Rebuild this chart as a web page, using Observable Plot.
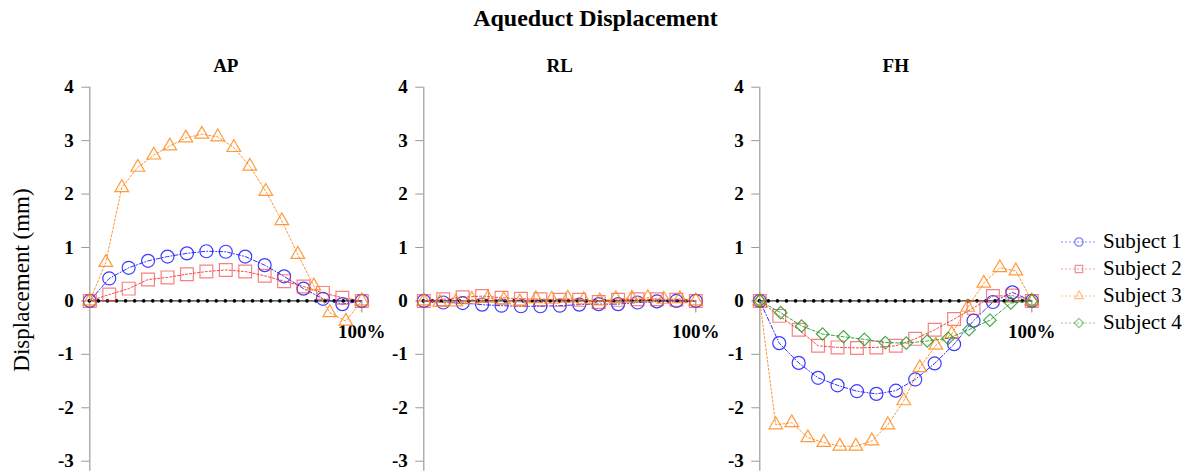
<!DOCTYPE html>
<html>
<head>
<meta charset="utf-8">
<script src="https://cdn.jsdelivr.net/npm/d3@7"></script>
<script src="https://cdn.jsdelivr.net/npm/@observablehq/plot@0.6"></script>
<style>
  html, body { margin: 0; padding: 0; background: #fff; }
  #root { position: relative; width: 1191px; height: 473px; font-family: "Liberation Serif", "Times New Roman", serif; overflow: hidden; }
  .panel { position: absolute; top: 0; }
  #title { position: absolute; left: 0; width: 1191px; top: 4px; text-align: center; font-weight: bold; font-size: 24px; line-height: 28px; }
  #ylabel { position: absolute; left: 22px; top: 280px; transform: translate(-50%, -50%) rotate(-90deg); font-size: 23px; white-space: nowrap; }
  #legend { position: absolute; left: 1060px; top: 228px; }
  .lrow { display: flex; align-items: center; height: 27px; font-size: 21px; }
  .lrow svg { margin-right: 5px; }
</style>
</head>
<body>
<div id="root">
  <div id="title">Aqueduct Displacement</div>
  <div id="ylabel">Displacement (mm)</div>
  <div id="legend"></div>
</div>
<script>
// ---- data ----
const subjects = ["Subject 1", "Subject 2", "Subject 3", "Subject 4"];
const panelNames = ["AP", "RL", "FH"];
const yTicks = [-3, -2, -1, 0, 1, 2, 3, 4];
const xTickValues = [100];
const xTickLabels = ["100%"];

// x positions (% of cycle) for series sampled at 15, 18 and 14 points
const x15 = [0, 7.14, 14.29, 21.43, 28.57, 35.71, 42.86, 50, 57.14, 64.29, 71.43, 78.57, 85.71, 92.86, 100];
const x18 = [0, 5.88, 11.76, 17.65, 23.53, 29.41, 35.29, 41.18, 47.06, 52.94, 58.82, 64.71, 70.59, 76.47, 82.35, 88.24, 94.12, 100];
const x14 = [0, 7.69, 15.38, 23.08, 30.77, 38.46, 46.15, 53.85, 61.54, 69.23, 76.92, 84.62, 92.31, 100];

// AP
const apS1 = [0, 0.42, 0.62, 0.75, 0.83, 0.89, 0.93, 0.92, 0.83, 0.67, 0.46, 0.23, 0.04, -0.06, 0];
const apS2 = [0, 0.12, 0.23, 0.4, 0.44, 0.5, 0.55, 0.58, 0.55, 0.47, 0.37, 0.27, 0.15, 0.06, 0];
const apS3 = [0, 0.72, 2.12, 2.5, 2.73, 2.9, 3.05, 3.12, 3.07, 2.87, 2.52, 2.05, 1.5, 0.87, 0.28, -0.22, -0.38, 0];
// RL
const rlS1 = [0, -0.03, -0.04, -0.07, -0.09, -0.1, -0.1, -0.09, -0.07, -0.06, -0.06, -0.03, -0.01, 0, 0];
const rlS2 = [0, 0.03, 0.07, 0.09, 0.06, 0.04, 0.03, 0.02, 0.02, -0.02, 0.02, 0.03, 0.03, 0.02, 0];
const rlS3 = [0, -0.03, -0.02, 0.03, 0.05, 0.02, -0.02, 0.04, 0.03, 0.05, 0.02, 0, 0.04, 0.05, 0.06, 0.03, 0.04, 0];
// FH
const fhS1 = [0, -0.79, -1.16, -1.44, -1.58, -1.69, -1.74, -1.68, -1.47, -1.17, -0.81, -0.37, -0.02, 0.16, 0];
const fhS2 = [0, -0.28, -0.54, -0.84, -0.87, -0.88, -0.87, -0.84, -0.71, -0.54, -0.34, -0.13, 0.09, 0.1, 0];
const fhS3 = [0, -2.32, -2.28, -2.56, -2.65, -2.72, -2.72, -2.62, -2.32, -1.87, -1.25, -0.83, -0.62, -0.12, 0.33, 0.62, 0.56, 0];
const fhS4 = [0, -0.22, -0.47, -0.62, -0.67, -0.72, -0.78, -0.79, -0.75, -0.7, -0.54, -0.36, -0.04, 0];

// ---- styles ----
const colors = ["#1a1aff", "#f03434", "#ff8a1c", "#2a9a2a"];
const symbols = ["circle", "square", "triangle2", "diamond2"];
const radii = [6.5, 7.2, 6.5, 5.6];
const dashes = ["4 2 1 2", "2 2", "2 2", "3 2"];
const markerOpacity = [0.85, 0.62, 0.85, 0.85];

function series(xs, ys) { return ys.map((y, i) => ({x: xs[i], y})); }

const panels = [
  {name: panelNames[0], left: 0, series: [[0, series(x15, apS1)], [1, series(x15, apS2)], [2, series(x18, apS3)]]},
  {name: panelNames[1], left: 334, series: [[0, series(x15, rlS1)], [1, series(x15, rlS2)], [2, series(x18, rlS3)]]},
  {name: panelNames[2], left: 670, series: [[0, series(x15, fhS1)], [1, series(x15, fhS2)], [2, series(x18, fhS3)], [3, series(x14, fhS4)]]}
];

const root = document.getElementById("root");

for (const p of panels) {
  const marks = [
    Plot.ruleX([0], {y1: 4, y2: -3, insetBottom: -10, stroke: "#9a9a9a", strokeWidth: 1.2}),
    Plot.axisY({ticks: yTicks, label: null, tickSize: 8, tickPadding: 8, tickFormat: d => String(d), stroke: "#9a9a9a", fill: "black", fontWeight: "bold", fontSize: 19}),
    Plot.ruleY([0], {x1: 0, x2: 100, stroke: "#333", strokeWidth: 1.3}),
    Plot.ruleY([0], {x1: 0, x2: 100, stroke: "black", strokeWidth: 3.6, strokeLinecap: "round", strokeDasharray: "0 9.07"}),
    Plot.ruleX(xTickValues, {x: d => d, y1: () => 0, y2: () => 0, insetBottom: -12, stroke: "#9a9a9a", strokeWidth: 1.2}),
    Plot.text(xTickValues, {x: d => d, y: () => 0, text: (d, i) => xTickLabels[i], dy: 31, fontWeight: "bold", fontSize: 19, fill: "black"}),
    Plot.text([p.name], {frameAnchor: "top", dy: -29, fontWeight: "bold", fontSize: 19, fill: "black"})
  ];
  for (const [k, data] of p.series) {
    marks.push(Plot.line(data, {x: "x", y: "y", stroke: colors[k], strokeWidth: 1, strokeDasharray: dashes[k], strokeOpacity: 0.9}));
    marks.push(Plot.dot(data, {x: "x", y: "y", symbol: () => symbols[k], r: radii[k], stroke: colors[k], strokeOpacity: markerOpacity[k], strokeWidth: 1.2, fill: "none"}));
  }
  const svg = Plot.plot({
    width: 400, height: 473,
    marginLeft: 89.3, marginRight: 38.7, marginTop: 86.7, marginBottom: 12.3,
    x: {domain: [0, 100], axis: null},
    y: {domain: [-3, 4], label: null},
    style: {fontFamily: "'Liberation Serif', 'Times New Roman', serif", fontSize: "19px", overflow: "visible", background: "transparent", color: "black"},
    marks
  });
  svg.classList.add("panel");
  svg.style.left = p.left + "px";
  root.appendChild(svg);
}

// legend
const legend = document.getElementById("legend");
subjects.forEach((s, k) => {
  const row = document.createElement("div");
  row.className = "lrow";
  const sym = d3.symbol(d3["symbol" + {circle: "Circle", square: "Square", triangle2: "Triangle2", diamond2: "Diamond2"}[symbols[k]]], Math.PI * 4.2 * 4.2)();
  row.innerHTML = `<svg width="38" height="20"><line x1="1" y1="10" x2="37" y2="10" stroke="${colors[k]}" stroke-opacity="0.5" stroke-dasharray="2 2"/>` +
    `<path d="${sym}" transform="translate(19,10)" fill="none" stroke="${colors[k]}" stroke-opacity="0.55" stroke-width="1.2"/></svg><span>${s}</span>`;
  legend.appendChild(row);
});
root.appendChild(legend);
</script>
</body>
</html>
